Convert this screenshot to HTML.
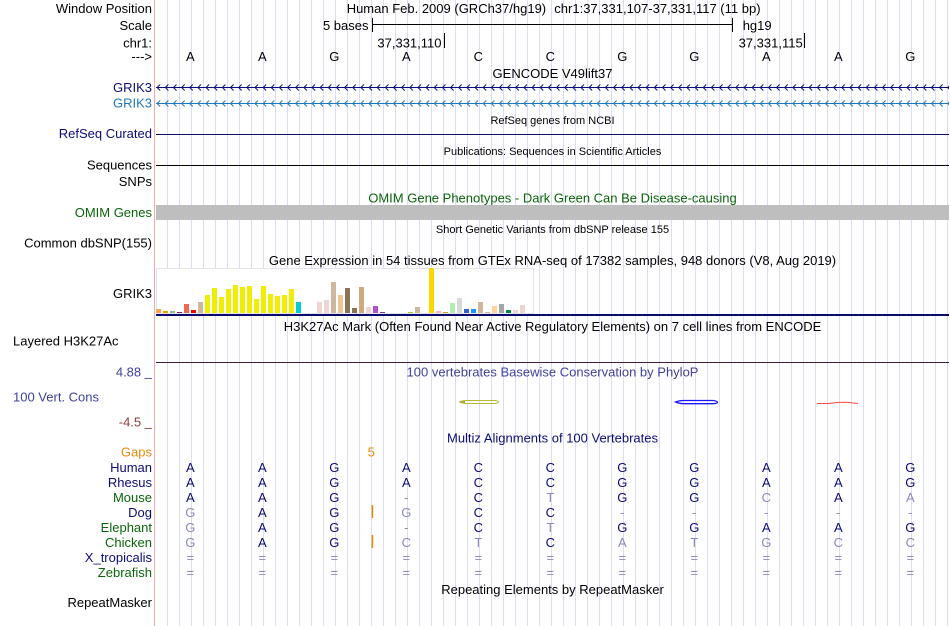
<!DOCTYPE html>
<html>
<head>
<meta charset="utf-8">
<style>
html,body{margin:0;padding:0;background:#fff;}
svg{display:block;}
text{font-family:"Liberation Sans",Arial,sans-serif;font-size:13px;white-space:pre;}
.s{font-size:11px;}
.r{text-anchor:end;}
.m{text-anchor:middle;}
.nv{fill:#0c0c78;}
.gr{fill:#0a640a;}
.gy{fill:#8a8ab8;}
.pb{fill:#41419b;}
</style>
</head>
<body>
<svg width="950" height="626" viewBox="0 0 950 626" xmlns="http://www.w3.org/2000/svg">
<defs>
<pattern id="grid" patternUnits="userSpaceOnUse" x="167" y="0" width="12" height="626">
<rect x="0" y="0" width="1" height="626" fill="#dcdcf8"/>
</pattern>
<pattern id="chev1" patternUnits="userSpaceOnUse" x="156.7" y="83" width="8.15" height="9">
<path d="M3.5,1.5 L0.5,4.5 L3.5,7.5" stroke="#0c0c78" fill="none" stroke-width="1"/>
</pattern>
<pattern id="chev2" patternUnits="userSpaceOnUse" x="156.7" y="99" width="8.15" height="9">
<path d="M3.5,1.5 L0.5,4.5 L3.5,7.5" stroke="#1f78b8" fill="none" stroke-width="1"/>
</pattern>
</defs>
<rect x="0" y="0" width="950" height="626" fill="#fff"/>
<!-- grid -->
<rect x="160" y="0" width="790" height="626" fill="url(#grid)"/>
<!-- red separator -->
<rect x="154" y="0" width="1" height="626" fill="#f8a8a8"/>

<!-- header -->
<text x="152" y="13" class="r">Window Position</text>
<text x="346.7" y="13">Human Feb. 2009 (GRCh37/hg19)</text>
<text x="554.3" y="13">chr1:37,331,107-37,331,117 (11 bp)</text>
<text x="152" y="30" class="r">Scale</text>
<text x="368.5" y="30" class="r">5 bases</text>
<rect x="372" y="18" width="1" height="14" fill="#000"/>
<rect x="372" y="24" width="361" height="1" fill="#000"/>
<rect x="732" y="18" width="1" height="14" fill="#000"/>
<text x="742.7" y="30">hg19</text>
<text x="152" y="47.5" class="r">chr1:</text>
<text x="441.5" y="47.5" class="r">37,331,110</text>
<rect x="444" y="33" width="1" height="15" fill="#000"/>
<text x="802.7" y="47.5" class="r">37,331,115</text>
<rect x="804" y="33" width="1" height="15" fill="#000"/>
<text x="152" y="61" class="r">---&gt;</text>
<g class="m">
<text x="190.3" y="61" class="m">A</text>
<text x="262.3" y="61" class="m">A</text>
<text x="334.3" y="61" class="m">G</text>
<text x="406.3" y="61" class="m">A</text>
<text x="478.3" y="61" class="m">C</text>
<text x="550.3" y="61" class="m">C</text>
<text x="622.3" y="61" class="m">G</text>
<text x="694.3" y="61" class="m">G</text>
<text x="766.3" y="61" class="m">A</text>
<text x="838.3" y="61" class="m">A</text>
<text x="910.3" y="61" class="m">G</text>
</g>

<!-- GENCODE -->
<text x="552.5" y="78" class="m">GENCODE V49lift37</text>
<text x="152" y="92" class="r nv">GRIK3</text>
<rect x="156" y="87" width="793" height="1" fill="#0c0c78"/>
<rect x="156" y="83" width="793" height="9" fill="url(#chev1)"/>
<text x="152" y="107.7" class="r" fill="#1f78b8">GRIK3</text>
<rect x="156" y="103" width="793" height="1" fill="#1f78b8"/>
<rect x="156" y="99" width="793" height="9" fill="url(#chev2)"/>

<!-- RefSeq -->
<text x="552.5" y="124" class="m s">RefSeq genes from NCBI</text>
<text x="152" y="138" class="r nv">RefSeq Curated</text>
<rect x="156" y="134" width="793" height="1" fill="#0c0c78"/>

<!-- Publications -->
<text x="552.5" y="155" class="m s">Publications: Sequences in Scientific Articles</text>
<text x="152" y="169.5" class="r">Sequences</text>
<rect x="156" y="165" width="793" height="1" fill="#000"/>
<text x="152" y="186" class="r">SNPs</text>

<!-- OMIM -->
<text x="552.5" y="202.5" class="m gr">OMIM Gene Phenotypes - Dark Green Can Be Disease-causing</text>
<text x="152" y="217" class="r gr">OMIM Genes</text>
<rect x="156" y="205" width="793" height="15" fill="#bebebe"/>

<!-- dbSNP -->
<text x="552.5" y="233" class="m s">Short Genetic Variants from dbSNP release 155</text>
<text x="152" y="247.6" class="r">Common dbSNP(155)</text>

<!-- GTEx -->
<text x="552.5" y="265" class="m">Gene Expression in 54 tissues from GTEx RNA-seq of 17382 samples, 948 donors (V8, Aug 2019)</text>
<text x="152" y="298" class="r">GRIK3</text>
<rect x="156" y="268" width="378" height="46" fill="#fff"/>
<rect x="156.5" y="268.5" width="377" height="45" fill="none" stroke="#e4e4ec" stroke-width="1"/>
<g>
<rect x="156" y="309" width="5" height="4" fill="#FFA54F"/>
<rect x="163" y="311" width="5" height="2" fill="#EE9A00"/>
<rect x="170" y="311" width="5" height="2" fill="#8FBC8F"/>
<rect x="177" y="312" width="5" height="1" fill="#8B1C62"/>
<rect x="184" y="304" width="5" height="9" fill="#EE6A50"/>
<rect x="191" y="310" width="5" height="3" fill="#FF0000"/>
<rect x="198" y="302" width="5" height="11" fill="#CDB79E"/>
<rect x="205" y="295" width="5" height="18" fill="#EEEE00"/>
<rect x="212" y="288" width="5" height="25" fill="#EEEE00"/>
<rect x="219" y="297" width="5" height="16" fill="#EEEE00"/>
<rect x="226" y="289" width="5" height="24" fill="#EEEE00"/>
<rect x="233" y="285" width="5" height="28" fill="#EEEE00"/>
<rect x="240" y="287" width="5" height="26" fill="#EEEE00"/>
<rect x="247" y="286" width="5" height="27" fill="#EEEE00"/>
<rect x="254" y="299" width="5" height="14" fill="#EEEE00"/>
<rect x="261" y="286" width="5" height="27" fill="#EEEE00"/>
<rect x="268" y="294" width="5" height="19" fill="#EEEE00"/>
<rect x="275" y="296" width="5" height="17" fill="#EEEE00"/>
<rect x="282" y="295" width="5" height="18" fill="#EEEE00"/>
<rect x="289" y="289" width="5" height="24" fill="#EEEE00"/>
<rect x="296" y="302" width="5" height="11" fill="#00CDCD"/>
<rect x="317" y="302" width="5" height="11" fill="#EED5D2"/>
<rect x="324" y="300" width="5" height="13" fill="#EED5D2"/>
<rect x="331" y="282" width="5" height="31" fill="#CDB79E"/>
<rect x="338" y="295" width="5" height="18" fill="#EEC591"/>
<rect x="345" y="288" width="5" height="25" fill="#8B7355"/>
<rect x="352" y="308" width="5" height="5" fill="#8B7355"/>
<rect x="359" y="287" width="5" height="26" fill="#CDAA7D"/>
<rect x="366" y="307" width="5" height="6" fill="#EED5D2"/>
<rect x="373" y="306" width="5" height="7" fill="#B452CD"/>
<rect x="380" y="312" width="5" height="1" fill="#7A378B"/>
<rect x="408" y="312" width="5" height="1" fill="#9ACD32"/>
<rect x="415" y="307" width="5" height="6" fill="#CDB79E"/>
<rect x="429" y="268" width="5" height="45" fill="#FFD700"/>
<rect x="436" y="311" width="5" height="2" fill="#FFB6C1"/>
<rect x="443" y="312" width="5" height="1" fill="#CD9B1D"/>
<rect x="450" y="303" width="5" height="10" fill="#B4EEB4"/>
<rect x="457" y="298" width="5" height="15" fill="#D9D9D9"/>
<rect x="464" y="309" width="5" height="4" fill="#3A5FCD"/>
<rect x="471" y="309" width="5" height="4" fill="#1E90FF"/>
<rect x="478" y="302" width="5" height="11" fill="#CDB79E"/>
<rect x="485" y="312" width="5" height="1" fill="#CDB79E"/>
<rect x="492" y="306" width="5" height="7" fill="#FFD39B"/>
<rect x="499" y="304" width="5" height="9" fill="#A6A6A6"/>
<rect x="506" y="310" width="5" height="3" fill="#008B45"/>
<rect x="513" y="310" width="5" height="3" fill="#EED5D2"/>
<rect x="520" y="305" width="5" height="8" fill="#EED5D2"/>
</g>
<rect x="156" y="314" width="793" height="2" fill="#0a0a6e"/>

<!-- H3K27Ac -->
<text x="552.5" y="331" class="m">H3K27Ac Mark (Often Found Near Active Regulatory Elements) on 7 cell lines from ENCODE</text>
<text x="13" y="345.5">Layered H3K27Ac</text>
<rect x="156" y="362" width="793" height="1" fill="#3c2038"/>

<!-- PhyloP -->
<text x="552.5" y="376.5" class="m pb">100 vertebrates Basewise Conservation by PhyloP</text>
<text x="152" y="376.5" class="r pb">4.88 _</text>
<text x="13" y="401.5" class="pb">100 Vert. Cons</text>
<text x="152" y="426.5" class="r" fill="#8a3c3c">-4.5 _</text>
<path d="M459.5,402 Q462,400.5 467,400.5 L495,400.5 Q498.5,401 498.5,402 Q498.5,403 495,403.5 L467,403.5 Q462,403.5 459.5,402 Z" fill="none" stroke="#b8b834" stroke-width="1"/>
<path d="M459,402 L465,401 L465,403 Z" fill="#9a9a14"/>
<path d="M675.5,402 Q679,400.5 684,400.5 L713,400.5 Q717.5,401 717.5,402.5 Q717.5,403.5 713,403.7 L684,403.7 Q679,403.5 675.5,402 Z" fill="none" stroke="#1818ff" stroke-width="1.3"/>
<path d="M817,403.5 L829,403.5 Q837,402.3 846,402.3 L858,403.5" fill="none" stroke="#ff4a4a" stroke-width="1"/>

<!-- Multiz -->
<text x="552.5" y="442.5" class="m nv">Multiz Alignments of 100 Vertebrates</text>
<text x="152" y="456.5" class="r" fill="#e8890f">Gaps</text>
<text x="371.3" y="456.5" class="m" fill="#e8890f">5</text>

<text x="152" y="472" class="r nv">Human</text>
<text x="152" y="487" class="r nv">Rhesus</text>
<text x="152" y="502" class="r gr">Mouse</text>
<text x="152" y="517" class="r nv">Dog</text>
<text x="152" y="532" class="r gr">Elephant</text>
<text x="152" y="547" class="r gr">Chicken</text>
<text x="152" y="562" class="r nv">X_tropicalis</text>
<text x="152" y="577" class="r gr">Zebrafish</text>

<g class="nv">
<!-- Human -->
<text x="190.3" y="472" class="m">A</text><text x="262.3" y="472" class="m">A</text><text x="334.3" y="472" class="m">G</text><text x="406.3" y="472" class="m">A</text><text x="478.3" y="472" class="m">C</text><text x="550.3" y="472" class="m">C</text><text x="622.3" y="472" class="m">G</text><text x="694.3" y="472" class="m">G</text><text x="766.3" y="472" class="m">A</text><text x="838.3" y="472" class="m">A</text><text x="910.3" y="472" class="m">G</text>
<!-- Rhesus -->
<text x="190.3" y="487" class="m">A</text><text x="262.3" y="487" class="m">A</text><text x="334.3" y="487" class="m">G</text><text x="406.3" y="487" class="m">A</text><text x="478.3" y="487" class="m">C</text><text x="550.3" y="487" class="m">C</text><text x="622.3" y="487" class="m">G</text><text x="694.3" y="487" class="m">G</text><text x="766.3" y="487" class="m">A</text><text x="838.3" y="487" class="m">A</text><text x="910.3" y="487" class="m">G</text>
<!-- Mouse -->
<text x="190.3" y="502" class="m">A</text><text x="262.3" y="502" class="m">A</text><text x="334.3" y="502" class="m">G</text><text x="406.3" y="502" class="m gy">-</text><text x="478.3" y="502" class="m">C</text><text x="550.3" y="502" class="m gy">T</text><text x="622.3" y="502" class="m">G</text><text x="694.3" y="502" class="m">G</text><text x="766.3" y="502" class="m gy">C</text><text x="838.3" y="502" class="m">A</text><text x="910.3" y="502" class="m gy">A</text>
<!-- Dog -->
<text x="190.3" y="517" class="m gy">G</text><text x="262.3" y="517" class="m">A</text><text x="334.3" y="517" class="m">G</text><text x="406.3" y="517" class="m gy">G</text><text x="478.3" y="517" class="m">C</text><text x="550.3" y="517" class="m">C</text><text x="622.3" y="517" class="m gy">-</text><text x="694.3" y="517" class="m gy">-</text><text x="766.3" y="517" class="m gy">-</text><text x="838.3" y="517" class="m gy">-</text><text x="910.3" y="517" class="m gy">-</text>
<!-- Elephant -->
<text x="190.3" y="532" class="m gy">G</text><text x="262.3" y="532" class="m">A</text><text x="334.3" y="532" class="m">G</text><text x="406.3" y="532" class="m gy">-</text><text x="478.3" y="532" class="m">C</text><text x="550.3" y="532" class="m gy">T</text><text x="622.3" y="532" class="m">G</text><text x="694.3" y="532" class="m">G</text><text x="766.3" y="532" class="m">A</text><text x="838.3" y="532" class="m">A</text><text x="910.3" y="532" class="m">G</text>
<!-- Chicken -->
<text x="190.3" y="547" class="m gy">G</text><text x="262.3" y="547" class="m">A</text><text x="334.3" y="547" class="m">G</text><text x="406.3" y="547" class="m gy">C</text><text x="478.3" y="547" class="m gy">T</text><text x="550.3" y="547" class="m">C</text><text x="622.3" y="547" class="m gy">A</text><text x="694.3" y="547" class="m gy">T</text><text x="766.3" y="547" class="m gy">G</text><text x="838.3" y="547" class="m gy">C</text><text x="910.3" y="547" class="m gy">C</text>
</g>
<g class="gy">
<text x="190.3" y="562" class="m">=</text><text x="262.3" y="562" class="m">=</text><text x="334.3" y="562" class="m">=</text><text x="406.3" y="562" class="m">=</text><text x="478.3" y="562" class="m">=</text><text x="550.3" y="562" class="m">=</text><text x="622.3" y="562" class="m">=</text><text x="694.3" y="562" class="m">=</text><text x="766.3" y="562" class="m">=</text><text x="838.3" y="562" class="m">=</text><text x="910.3" y="562" class="m">=</text>
<text x="190.3" y="577" class="m">=</text><text x="262.3" y="577" class="m">=</text><text x="334.3" y="577" class="m">=</text><text x="406.3" y="577" class="m">=</text><text x="478.3" y="577" class="m">=</text><text x="550.3" y="577" class="m">=</text><text x="622.3" y="577" class="m">=</text><text x="694.3" y="577" class="m">=</text><text x="766.3" y="577" class="m">=</text><text x="838.3" y="577" class="m">=</text><text x="910.3" y="577" class="m">=</text>
</g>
<rect x="371.6" y="505" width="1.6" height="13" fill="#e8890f"/>
<rect x="371.6" y="535" width="1.6" height="13" fill="#e8890f"/>

<!-- RepeatMasker -->
<text x="552.5" y="594" class="m">Repeating Elements by RepeatMasker</text>
<text x="152" y="607" class="r">RepeatMasker</text>
</svg>
</body>
</html>
